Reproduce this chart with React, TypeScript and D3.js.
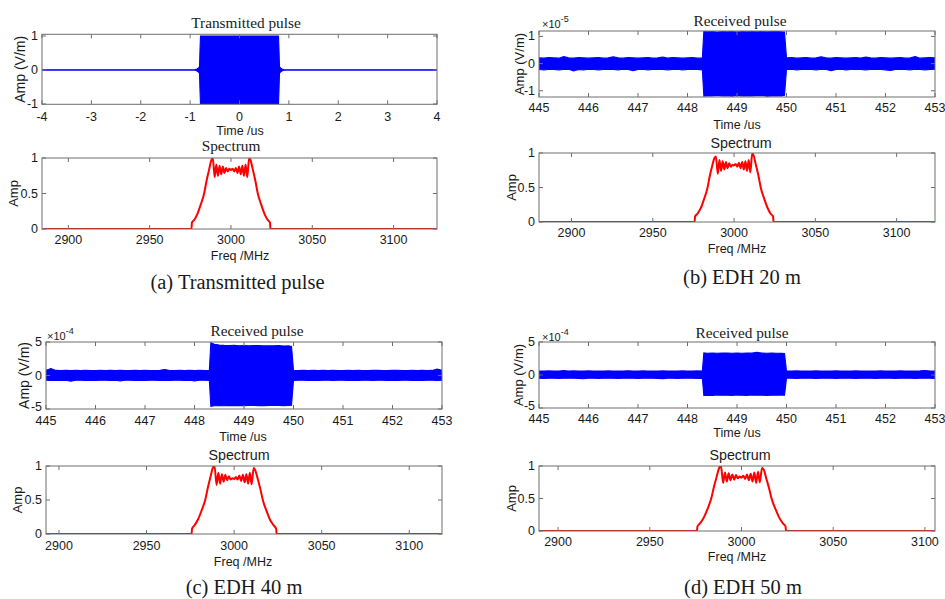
import React from 'react';
import * as d3 from 'd3';

// ---------- DATA ----------
// (a) transmitted pulse envelope (V/m)
const TX_TIME = [-4, -0.95, -0.9, -0.86, -0.83, -0.81, -0.8, -0.79, 0.79, 0.8, 0.81, 0.83, 0.86, 0.9, 0.95, 4];
const TX_UP = [0.004, 0.004, 0.01, 0.03, 0.06, 0.1, 0.6, 1.0, 1.0, 0.6, 0.1, 0.06, 0.03, 0.01, 0.004, 0.004];
const TX_LO = [-0.004, -0.004, -0.01, -0.03, -0.06, -0.1, -0.6, -1.0, -1.0, -0.6, -0.1, -0.06, -0.03, -0.01, -0.004, -0.004];

// received pulse sample times (us)
const RX_TIME = [
  445.0, 445.1, 445.2, 445.3, 445.4, 445.5, 445.6, 445.7, 445.8, 445.9,
  446.0, 446.1, 446.2, 446.3, 446.4, 446.5, 446.6, 446.7, 446.8, 446.9,
  447.0, 447.1, 447.2, 447.3, 447.4, 447.5, 447.6, 447.7, 447.8, 447.9,
  448.0, 448.1, 448.2, 448.3,
  448.33, 448.4, 448.5, 448.6, 448.7, 448.8, 448.9, 449.0, 449.1, 449.2,
  449.3, 449.4, 449.5, 449.6, 449.7, 449.8, 449.9, 449.96,
  450.0, 450.1, 450.2, 450.3, 450.4, 450.5, 450.6, 450.7, 450.8, 450.9,
  451.0, 451.1, 451.2, 451.3, 451.4, 451.5, 451.6, 451.7, 451.8, 451.9,
  452.0, 452.1, 452.2, 452.3, 452.4, 452.5, 452.6, 452.7, 452.8, 452.9, 453.0,
];

// (b) EDH 20 m, x1e-5 V/m
const B_UP = [
  0.21, 0.2, 0.22, 0.21, 0.2, 0.26, 0.21, 0.2, 0.22, 0.21, 0.2, 0.21, 0.22, 0.2, 0.21, 0.25, 0.21, 0.2, 0.22, 0.21,
  0.2, 0.21, 0.22, 0.2, 0.21, 0.24, 0.2, 0.22, 0.21, 0.2, 0.21, 0.22, 0.2, 0.21,
  1.19, 1.17, 1.18, 1.16, 1.18, 1.17, 1.18, 1.16, 1.18, 1.17, 1.18, 1.17, 1.18, 1.17, 1.18, 1.19, 1.17, 1.16,
  0.21, 0.22, 0.2, 0.21, 0.22, 0.2, 0.21, 0.25, 0.21, 0.2, 0.22, 0.21, 0.2, 0.21, 0.22, 0.2, 0.24, 0.21, 0.2, 0.22,
  0.21, 0.2, 0.21, 0.22, 0.2, 0.21, 0.26, 0.2, 0.21, 0.22, 0.21,
];
const B_LO = [
  -0.22, -0.23, -0.21, -0.22, -0.23, -0.22, -0.21, -0.27, -0.22, -0.23, -0.21, -0.22, -0.23, -0.22, -0.21, -0.22, -0.23, -0.21, -0.22, -0.26,
  -0.22, -0.21, -0.23, -0.22, -0.21, -0.22, -0.23, -0.22, -0.21, -0.23, -0.22, -0.21, -0.22, -0.23,
  -1.2, -1.18, -1.19, -1.17, -1.19, -1.18, -1.2, -1.17, -1.19, -1.18, -1.19, -1.18, -1.17, -1.2, -1.19, -1.18, -1.19, -1.17,
  -0.22, -0.21, -0.23, -0.22, -0.21, -0.22, -0.23, -0.21, -0.22, -0.26, -0.22, -0.21, -0.23, -0.22, -0.21, -0.22, -0.23, -0.22, -0.21, -0.22,
  -0.23, -0.25, -0.22, -0.21, -0.22, -0.23, -0.21, -0.22, -0.23, -0.22, -0.21,
];

// (c) EDH 40 m, x1e-4 V/m
const C_UP = [
  0.78, 1.05, 0.76, 0.74, 0.77, 0.75, 0.76, 0.74, 0.77, 0.75, 0.74, 0.76, 0.75, 0.77, 0.74, 0.76, 0.75, 0.74, 0.77, 0.75,
  0.76, 0.74, 0.75, 0.77, 0.88, 0.75, 0.74, 0.76, 0.75, 0.77, 0.74, 0.76, 0.75, 0.77,
  4.9, 4.65, 4.55, 4.5, 4.48, 4.5, 4.45, 4.48, 4.44, 4.46, 4.48, 4.42, 4.45, 4.43, 4.46, 4.4, 4.42, 4.35,
  0.76, 0.75, 0.77, 0.74, 0.76, 0.75, 0.77, 0.74, 0.76, 0.75, 0.74, 0.77, 0.75, 0.76, 0.74, 0.75, 0.77, 0.76, 0.74, 0.75,
  0.76, 0.77, 0.74, 0.75, 0.76, 0.74, 0.77, 0.75, 0.76, 0.95, 0.78,
];
const C_LO = [
  -0.72, -0.74, -0.71, -0.73, -0.72, -0.85, -0.72, -0.71, -0.73, -0.72, -0.74, -0.72, -0.71, -0.73, -0.72, -0.8, -0.72, -0.71, -0.73, -0.72,
  -0.74, -0.72, -0.71, -0.73, -0.72, -0.74, -0.72, -0.71, -0.73, -0.72, -0.82, -0.72, -0.71, -0.73,
  -4.6, -4.52, -4.48, -4.52, -4.46, -4.5, -4.47, -4.5, -4.48, -4.46, -4.49, -4.5, -4.47, -4.48, -4.46, -4.5, -4.47, -4.45,
  -0.73, -0.72, -0.71, -0.74, -0.72, -0.73, -0.71, -0.72, -0.74, -0.72, -0.71, -0.73, -0.72, -0.74, -0.71, -0.72, -0.73, -0.72, -0.71, -0.74,
  -0.72, -0.73, -0.72, -0.71, -0.74, -0.72, -0.73, -0.71, -0.72, -0.74, -0.72,
];

// (d) EDH 50 m, x1e-4 V/m
const D_UP = [
  0.61, 0.6, 0.62, 0.6, 0.61, 0.66, 0.6, 0.62, 0.61, 0.6, 0.62, 0.61, 0.6, 0.61, 0.62, 0.6, 0.61, 0.6, 0.65, 0.61,
  0.6, 0.62, 0.61, 0.6, 0.61, 0.62, 0.6, 0.61, 0.6, 0.62, 0.61, 0.6, 0.62, 0.61,
  3.35, 3.3, 3.33, 3.3, 3.32, 3.34, 3.3, 3.33, 3.3, 3.32, 3.31, 3.42, 3.32, 3.3, 3.33, 3.3, 3.28, 3.25,
  0.6, 0.61, 0.62, 0.6, 0.61, 0.6, 0.62, 0.61, 0.6, 0.61, 0.62, 0.6, 0.61, 0.6, 0.62, 0.61, 0.6, 0.61, 0.6, 0.62,
  0.61, 0.6, 0.61, 0.62, 0.6, 0.61, 0.6, 0.62, 0.68, 0.6, 0.61,
];
const D_LO = [
  -0.5, -0.51, -0.49, -0.5, -0.51, -0.5, -0.49, -0.5, -0.51, -0.56, -0.5, -0.49, -0.51, -0.5, -0.49, -0.5, -0.51, -0.5, -0.49, -0.5,
  -0.51, -0.5, -0.49, -0.5, -0.51, -0.55, -0.5, -0.49, -0.51, -0.5, -0.49, -0.5, -0.51, -0.5,
  -3.1, -3.06, -3.08, -3.04, -3.07, -3.05, -3.08, -3.04, -3.06, -3.08, -3.04, -3.07, -3.05, -3.08, -3.05, -3.07, -3.04, -3.05,
  -0.5, -0.49, -0.51, -0.5, -0.49, -0.5, -0.51, -0.5, -0.49, -0.5, -0.51, -0.5, -0.49, -0.5, -0.51, -0.5, -0.49, -0.5, -0.51, -0.5,
  -0.49, -0.5, -0.51, -0.5, -0.49, -0.5, -0.51, -0.5, -0.49, -0.5, -0.51,
];

// spectrum frequencies (MHz)
const SPEC_FREQ = [
  2860, 2975.7, 2976, 2977.5, 2979.5, 2981.5, 2983.5, 2985, 2986.6, 2987.8, 2988.8,
  2990, 2991, 2992, 2993, 2994, 2995, 2996, 2997, 2998, 2999, 3000, 3001, 3002, 3003, 3004, 3005, 3006, 3007, 3008, 3009, 3010,
  3011.2, 3012.2, 3013.4, 3015, 3016.5, 3018.5, 3020.5, 3022.5, 3024, 3024.3, 3140,
];
const SPEC_A = [
  0, 0, 0.09, 0.13, 0.22, 0.35, 0.5, 0.68, 0.84, 0.96, 1.0,
  0.73, 0.91, 0.75, 0.89, 0.77, 0.88, 0.79, 0.86, 0.81, 0.85, 0.83, 0.85, 0.81, 0.86, 0.79, 0.88, 0.77, 0.89, 0.75, 0.91, 0.73,
  1.0, 0.96, 0.84, 0.68, 0.5, 0.35, 0.22, 0.13, 0.09, 0, 0,
];
const SPEC_B = [
  0, 0, 0.08, 0.12, 0.2, 0.33, 0.48, 0.66, 0.82, 0.92, 0.95,
  0.7, 0.9, 0.74, 0.88, 0.76, 0.87, 0.78, 0.85, 0.8, 0.83, 0.82, 0.84, 0.8, 0.86, 0.78, 0.87, 0.76, 0.88, 0.74, 0.9, 0.72,
  1.0, 0.95, 0.83, 0.67, 0.49, 0.34, 0.21, 0.12, 0.08, 0, 0,
];
const SPEC_C = [
  0, 0, 0.08, 0.13, 0.22, 0.35, 0.5, 0.68, 0.85, 0.97, 1.0,
  0.72, 0.9, 0.74, 0.88, 0.77, 0.87, 0.79, 0.85, 0.8, 0.82, 0.81, 0.84, 0.8, 0.86, 0.78, 0.87, 0.76, 0.88, 0.74, 0.9, 0.73,
  0.97, 0.93, 0.82, 0.66, 0.49, 0.34, 0.21, 0.13, 0.08, 0, 0,
];
const SPEC_D = [
  0, 0, 0.07, 0.12, 0.21, 0.34, 0.5, 0.68, 0.85, 0.97, 1.0,
  0.74, 0.9, 0.76, 0.89, 0.78, 0.87, 0.79, 0.86, 0.81, 0.84, 0.82, 0.85, 0.8, 0.87, 0.78, 0.88, 0.76, 0.9, 0.74, 0.91, 0.75,
  0.97, 0.94, 0.82, 0.66, 0.49, 0.34, 0.21, 0.12, 0.07, 0, 0,
];

// tick labels
const TX_XTICKS = [-4, -3, -2, -1, 0, 1, 2, 3, 4];
const TX_YTICKS = [-1, 0, 1];
const RX_XTICKS = [445, 446, 447, 448, 449, 450, 451, 452, 453];
const RX_YTICKS = [-1, 0, 1];
const RX4_YTICKS = [-5, 0, 5];
const SPEC_XTICKS = [2900, 2950, 3000, 3050, 3100];
const SPEC_YTICKS = [0, 0.5, 1];
const CAPTIONS = ['(a) Transmitted pulse', '(b) EDH 20 m', '(c) EDH 40 m', '(d) EDH 50 m'];

// ---------- STYLE ----------
const SANS = "Arial, 'Liberation Sans', Helvetica, sans-serif";
const SERIF = "'Times New Roman', 'Liberation Serif', Times, serif";
const BOX = '#6e6e6e';
const TXT = '#1a1a1a';

type Box = { x0: number; x1: number; y0: number; y1: number };

type PanelProps = {
  id: string;
  box: Box;
  xDom: [number, number];
  yDom: [number, number];
  xTicks: number[];
  yTicks: number[];
  tickY: number;
  title: string;
  titleX: number;
  titleY: number;
  titleSerif: boolean;
  xLabel: string;
  xLabelX: number;
  xLabelY: number;
  yLabel: string;
  yLabelX: number;
  yLabelSize?: number;
  lowTickNudge?: number;
  expo?: { text: string; x: number; y: number };
  children: (xs: d3.ScaleLinear<number, number>, ys: d3.ScaleLinear<number, number>) => React.ReactNode;
};

function Panel(p: PanelProps) {
  const { box } = p;
  const xs = d3.scaleLinear().domain(p.xDom).range([box.x0, box.x1]);
  const ys = d3.scaleLinear().domain(p.yDom).range([box.y1, box.y0]);
  const tl = 4;
  const lowest = Math.min(...p.yTicks);
  return (
    <g>
      <defs>
        <clipPath id={`clip-${p.id}`}>
          <rect x={box.x0} y={box.y0} width={box.x1 - box.x0} height={box.y1 - box.y0} />
        </clipPath>
      </defs>
      <g clipPath={`url(#clip-${p.id})`}>{p.children(xs, ys)}</g>
      <rect x={box.x0} y={box.y0} width={box.x1 - box.x0} height={box.y1 - box.y0} fill="none" stroke={BOX} strokeWidth={1} />
      {p.xTicks.map((t) => (
        <g key={`x${t}`}>
          <line x1={xs(t)} x2={xs(t)} y1={box.y1} y2={box.y1 - tl} stroke={BOX} />
          <line x1={xs(t)} x2={xs(t)} y1={box.y0} y2={box.y0 + tl} stroke={BOX} />
          <text x={xs(t)} y={p.tickY} textAnchor="middle" dominantBaseline="central" fontFamily={SANS} fontSize={12.5} fill={TXT}>
            {String(t)}
          </text>
        </g>
      ))}
      {p.yTicks.map((t) => (
        <g key={`y${t}`}>
          <line x1={box.x0} x2={box.x0 + tl} y1={ys(t)} y2={ys(t)} stroke={BOX} />
          <line x1={box.x1} x2={box.x1 - tl} y1={ys(t)} y2={ys(t)} stroke={BOX} />
          <text
            x={box.x0 - 4}
            y={ys(t) - (t === lowest ? p.lowTickNudge || 0 : 0)}
            textAnchor="end"
            dominantBaseline="central"
            fontFamily={SANS}
            fontSize={12.5}
            fill={TXT}
          >
            {String(t)}
          </text>
        </g>
      ))}
      <text x={p.titleX} y={p.titleY} textAnchor="middle" dominantBaseline="central" fontFamily={p.titleSerif ? SERIF : SANS} fontSize={p.titleSerif ? 15.3 : 14.3} fill={TXT}>
        {p.title}
      </text>
      <text x={p.xLabelX} y={p.xLabelY} textAnchor="middle" dominantBaseline="central" fontFamily={SANS} fontSize={12.5} fill={TXT}>
        {p.xLabel}
      </text>
      <text
        transform={`translate(${p.yLabelX},${(box.y0 + box.y1) / 2}) rotate(-90)`}
        textAnchor="middle"
        dominantBaseline="central"
        fontFamily={SANS}
        fontSize={p.yLabelSize || 13}
        fill={TXT}
      >
        {p.yLabel}
      </text>
      {p.expo && (
        <text x={p.expo.x} y={p.expo.y} fontFamily={SANS} fontSize={11} fill={TXT} dominantBaseline="central">
          {'\u00d710'}
          <tspan fontSize={9} dy={-5}>{p.expo.text}</tspan>
        </text>
      )}
    </g>
  );
}

function pulseArea(times: number[], up: number[], lo: number[]) {
  return (xs: d3.ScaleLinear<number, number>, ys: d3.ScaleLinear<number, number>) => {
    const idx = d3.range(times.length);
    const area = d3
      .area<number>()
      .x((i) => xs(times[i]))
      .y0((i) => ys(lo[i]))
      .y1((i) => ys(up[i]));
    return <path d={area(idx) || ''} fill="#0000ff" stroke="#0000ff" strokeWidth={1.1} strokeLinejoin="miter" />;
  };
}

function specLine(freq: number[], amp: number[]) {
  return (xs: d3.ScaleLinear<number, number>, ys: d3.ScaleLinear<number, number>) => {
    const idx = d3.range(freq.length);
    const line = d3
      .line<number>()
      .x((i) => xs(freq[i]))
      .y((i) => ys(amp[i]))
      .curve(d3.curveMonotoneX);
    return <path d={line(idx) || ''} fill="none" stroke="#ff0000" strokeWidth={2} strokeLinejoin="round" />;
  };
}

export default function App() {
  return (
    <svg width={945} height={599} style={{ position: 'absolute', left: 0, top: 0, background: '#fff' }}>
      <rect x={0} y={0} width={945} height={599} fill="#fff" />

      {/* (a) */}
      <Panel id="pa" box={{ x0: 42, x1: 437, y0: 34.3, y1: 104.3 }} xDom={[-4, 4]} yDom={[-1.01, 1.05]}
        xTicks={TX_XTICKS} yTicks={TX_YTICKS} tickY={117} title="Transmitted pulse" titleX={246} titleY={22} titleSerif
        xLabel="Time /us" xLabelX={240} xLabelY={131} yLabel="Amp (V/m)" yLabelX={20} yLabelSize={14}>
        {pulseArea(TX_TIME, TX_UP, TX_LO)}
      </Panel>
      <Panel id="sa" box={{ x0: 42, x1: 437, y0: 158, y1: 229 }} xDom={[2883.8, 3126.7]} yDom={[0, 1]}
        xTicks={SPEC_XTICKS} yTicks={SPEC_YTICKS} tickY={240} title="Spectrum" titleX={231} titleY={145} titleSerif
        xLabel="Freq /MHz" xLabelX={240} xLabelY={256} yLabel="Amp" yLabelX={13}>
        {specLine(SPEC_FREQ, SPEC_A)}
      </Panel>

      {/* (b) */}
      <Panel id="pb" box={{ x0: 539, x1: 935, y0: 31, y1: 97 }} xDom={[445, 453]} yDom={[-1.23, 1.2]}
        xTicks={RX_XTICKS} yTicks={RX_YTICKS} tickY={108} title="Received pulse" titleX={740} titleY={20} titleSerif
        xLabel="Time /us" xLabelX={737} xLabelY={125} yLabel="Amp (V/m)" yLabelX={519} expo={{ text: '-5', x: 542, y: 24 }}>
        {pulseArea(RX_TIME, B_UP, B_LO)}
      </Panel>
      <Panel id="sb" box={{ x0: 539, x1: 935, y0: 153, y1: 222 }} xDom={[2880, 3123.6]} yDom={[0, 1]}
        xTicks={SPEC_XTICKS} yTicks={SPEC_YTICKS} tickY={233} title="Spectrum" titleX={741} titleY={143} titleSerif={false}
        xLabel="Freq /MHz" xLabelX={737} xLabelY={249} yLabel="Amp" yLabelX={511}>
        {specLine(SPEC_FREQ, SPEC_B)}
      </Panel>

      {/* (c) */}
      <Panel id="pc" box={{ x0: 46, x1: 442, y0: 342, y1: 409 }} xDom={[445, 453]} yDom={[-5, 5]}
        xTicks={RX_XTICKS} yTicks={RX4_YTICKS} tickY={421} title="Received pulse" titleX={257} titleY={330} titleSerif
        xLabel="Time /us" xLabelX={243} xLabelY={437} yLabel="Amp (V/m)" yLabelX={24} yLabelSize={14} lowTickNudge={2}
        expo={{ text: '-4', x: 47, y: 336 }}>
        {pulseArea(RX_TIME, C_UP, C_LO)}
      </Panel>
      <Panel id="sc" box={{ x0: 46, x1: 442, y0: 466, y1: 534 }} xDom={[2892.6, 3118.7]} yDom={[0, 1]}
        xTicks={SPEC_XTICKS} yTicks={SPEC_YTICKS} tickY={546} title="Spectrum" titleX={239} titleY={455} titleSerif={false}
        xLabel="Freq /MHz" xLabelX={243} xLabelY={562} yLabel="Amp" yLabelX={17}>
        {specLine(SPEC_FREQ, SPEC_C)}
      </Panel>

      {/* (d) */}
      <Panel id="pd" box={{ x0: 539, x1: 935, y0: 342, y1: 408 }} xDom={[445, 453]} yDom={[-5, 5]}
        xTicks={RX_XTICKS} yTicks={RX4_YTICKS} tickY={419} title="Received pulse" titleX={742} titleY={332} titleSerif
        xLabel="Time /us" xLabelX={737} xLabelY={433} yLabel="Amp (V/m)" yLabelX={518} lowTickNudge={2}
        expo={{ text: '-4', x: 542, y: 337 }}>
        {pulseArea(RX_TIME, D_UP, D_LO)}
      </Panel>
      <Panel id="sd" box={{ x0: 539, x1: 935, y0: 466, y1: 531 }} xDom={[2889.6, 3105.5]} yDom={[0, 1]}
        xTicks={SPEC_XTICKS} yTicks={SPEC_YTICKS} tickY={542} title="Spectrum" titleX={740} titleY={455} titleSerif={false}
        xLabel="Freq /MHz" xLabelX={737} xLabelY={557} yLabel="Amp" yLabelX={511}>
        {specLine(SPEC_FREQ, SPEC_D)}
      </Panel>

      {/* captions */}
      <text x={237.5} y={282} textAnchor="middle" dominantBaseline="central" fontFamily={SERIF} fontSize={20.5} fill={TXT}>{CAPTIONS[0]}</text>
      <text x={742} y={277} textAnchor="middle" dominantBaseline="central" fontFamily={SERIF} fontSize={20.5} fill={TXT}>{CAPTIONS[1]}</text>
      <text x={244} y={587} textAnchor="middle" dominantBaseline="central" fontFamily={SERIF} fontSize={20.5} fill={TXT}>{CAPTIONS[2]}</text>
      <text x={743} y={587} textAnchor="middle" dominantBaseline="central" fontFamily={SERIF} fontSize={20.5} fill={TXT}>{CAPTIONS[3]}</text>
    </svg>
  );
}
